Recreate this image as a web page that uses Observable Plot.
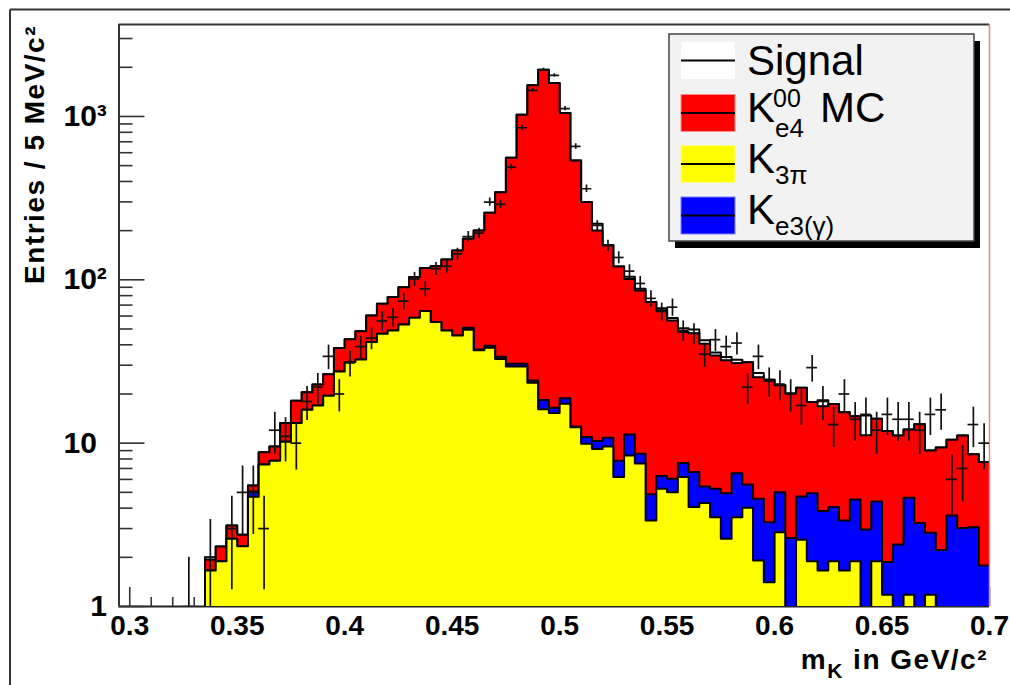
<!DOCTYPE html>
<html><head><meta charset="utf-8">
<script src="https://cdn.jsdelivr.net/npm/d3@7"></script>
<script src="https://cdn.jsdelivr.net/npm/@observablehq/plot@0.6"></script>
<style>
html,body{margin:0;padding:0;background:#fff;}
#chart{position:relative;width:1010px;height:685px;overflow:hidden;background:#fff;}
</style></head><body><div id="chart"></div>
<script>
// ---- data: 5 MeV bins, lower edges in GeV/c^2 ----
const binLow = [0.295,0.300,0.305,0.310,0.315,0.320,0.325,0.330,0.335,0.340,
  0.345,0.350,0.355,0.360,0.365,0.370,0.375,0.380,0.385,0.390,
  0.395,0.400,0.405,0.410,0.415,0.420,0.425,0.430,0.435,0.440,
  0.445,0.450,0.455,0.460,0.465,0.470,0.475,0.480,0.485,0.490,
  0.495,0.500,0.505,0.510,0.515,0.520,0.525,0.530,0.535,0.540,
  0.545,0.550,0.555,0.560,0.565,0.570,0.575,0.580,0.585,0.590,
  0.595,0.600,0.605,0.610,0.615,0.620,0.625,0.630,0.635,0.640,
  0.645,0.650,0.655,0.660,0.665,0.670,0.675,0.680,0.685,0.690,0.695];
const binWidth = 0.005;

// K3pi (yellow), bottom of the stack
const k3pi = [0,0,0,0,0,0,0,0,1.66,1.89,
  2.6,2.34,4.7,7.4,7.8,10.2,13.3,16,17,19.5,
  27.5,31.4,32.5,41.6,46.7,49,53.3,58.6,64.4,55.1,
  49,45.6,49.5,37,38.4,32.7,29.5,29.5,23.4,16.1,
  15.3,17.4,12.5,9.9,9.2,9.55,6.2,8.4,7.5,3.36,
  5.25,5.0,6.2,4.06,4.3,3.52,2.6,3.52,4.02,1.91,
  1.41,2.85,0,2.56,1.89,1.66,1.89,1.66,1.89,0,
  1.89,1.18,0,1.18,0,1.18,0,0,0,0,0];
// Ke3(gamma) (blue)
const ke3 = [0,0,0,0,0,0,0,0,0,0,
  0,0,0.35,0,0,0,0,0,0,0,
  0,0,0,0,0,0,0,0,0,0,
  0,0,1.4,0.5,1.1,1.1,1.1,1.1,0.8,2.3,
  1.2,1.4,0.15,1.0,1.1,1.25,1.6,2.9,1.1,1.5,
  1.05,1.05,1.35,2.6,1.13,1.73,2.34,3.03,1.56,2.65,
  1.87,2.15,2.63,2.16,3.05,2.18,2.17,1.7,2.63,2.96,
  2.51,0.69,2.4,3.45,3.24,1.65,2.22,3.61,3.02,3.06,1.78];
// Ke4 00 MC (red)
const ke4 = [0,0,0,0,0,0,0,0,0.27,0.44,
  0.53,0.41,0.45,1.4,1.75,3.1,4.9,4.5,5.9,6.9,
  10.8,11.8,16,18.9,24.6,29.4,36.9,45.4,53.6,65.9,
  84,105.4,127.6,163.2,218,310,528,994,1526,1914,
  1585,1031,525,289,190,152,113,90,77.5,68.2,
  58.7,50.3,40.4,40.5,35.2,29.2,27.2,24.4,25.7,20.8,
  21.2,17.6,17.5,17.1,12.9,13.0,13.3,12.1,10.1,8.2,
  9.7,10.0,8.75,7.5,9.8,6.2,7.2,6.9,8.1,5.5,5.9];
// Signal (white), top of the stack
const signal = [0,0,0,0,0,0,0,0,0.07,0,
  0,0,0,0,0,0,0,0,0,0,
  0,0,0,0,0,0,0,0,0,0,
  0,0,0,0,0,0,0,0,0,0,
  0,0,0,0,20,0,0,3,2,0,
  2,2,2.5,2.5,2,1.5,1.5,1.5,0,1.5,
  0,0,0,0,0,1.5,0,0,0,3.6,
  0,0,0,0,0,0,0,0,0,0,0];
// measured entries (crosses)
const entries = [0,0,0,0,0,0,1,0,2,0,
  3,5,5,3,12,11,10,18,22,34,
  20,31,39,44,56,59,74,101,88,117,
  121,144,184,193,299,290,490,853,1445,1932,
  1785,1116,656,361,215,162,137,113,95,77,
  64,68,49,47,35,43,39,41,22,34,
  24,23,20,17,29,18,13,20,14,15,
  12,15,14,14,12,15,16,6,7,13,10];

const xMajorTicks = [0.3,0.35,0.4,0.45,0.5,0.55,0.6,0.65,0.7];
const xTickLabels = ["0.3","0.35","0.4","0.45","0.5","0.55","0.6","0.65","0.7"];
const xMinorTicks = [0.31,0.32,0.33,0.34,0.36,0.37,0.38,0.39,0.41,0.42,0.43,0.44,
  0.46,0.47,0.48,0.49,0.51,0.52,0.53,0.54,0.56,0.57,0.58,0.59,0.61,0.62,0.63,0.64,
  0.66,0.67,0.68,0.69];
const yMajorTicks = [1,10,100,1000];
const yTickLabels = ["1","10","10\u00B2","10\u00B3"];
const yMinorTicks = [2,3,4,5,6,7,8,9,20,30,40,50,60,70,80,90,200,300,400,500,600,700,800,900,2000,3000];
const xDomain = [0.295, 0.7];
const yDomain = [1, 3656];

const layerColors = ["#ffffff","#ff0000","#ffff00","#0000ff"];

// ---- build stacked (cumulative) histograms ----
const floorV = 0.2;
const cumY = k3pi.map(v => v);
const cumB = k3pi.map((v,i) => v + ke3[i]);
const cumR = cumB.map((v,i) => v + ke4[i]);
const cumT = cumR.map((v,i) => v + signal[i]);
function steps(vals){
  return binLow.flatMap((lo,i) => {
    const v = Math.max(vals[i], floorV);
    return [{x: lo, y: v}, {x: lo + binWidth, y: v}];
  });
}
const layers = [
  {vals: cumT, fill: layerColors[0]},
  {vals: cumR, fill: layerColors[1]},
  {vals: cumB, fill: layerColors[3]},
  {vals: cumY, fill: layerColors[2]}
];
const histMarks = layers.flatMap(L => {
  const pts = steps(L.vals);
  return [
    Plot.areaY(pts, {x: "x", y1: floorV, y2: "y", fill: L.fill, clip: true}),
    Plot.line(pts, {x: "x", y: "y", stroke: "#000", strokeWidth: 2, clip: true})
  ];
});

const dataRows = binLow.map((lo,i) => ({lo, hi: lo + binWidth, mid: lo + binWidth/2, n: entries[i]}))
  .filter(d => d.n > 0)
  .map(d => ({...d, e1: Math.max(d.n - Math.sqrt(d.n), floorV), e2: d.n + Math.sqrt(d.n)}));

const W = 1010, H = 685, mL = 118.5, mR = 21, mT = 24, mB = 79;
const fw = W - mL - mR, fh = H - mT - mB;
const tickCol = "#333";

const plot = Plot.plot({
  width: W, height: H,
  marginLeft: mL, marginRight: mR, marginTop: mT, marginBottom: mB,
  style: {fontFamily: "'Liberation Sans', Arial, sans-serif", fontSize: "28px", background: "#fff", color: "#000", overflow: "visible"},
  x: {domain: xDomain, label: null},
  y: {type: "log", domain: yDomain, label: null, axis: null},
  marks: [
    Plot.ruleY([yDomain[0]], {stroke: "#222", strokeWidth: 2}),
    Plot.ruleY([yDomain[1]], {stroke: "#333", strokeWidth: 2}),
    Plot.ruleX([xDomain[0]], {stroke: "#333", strokeWidth: 2}),
    Plot.tickX(xMinorTicks, {x: d => d, insetTop: fh - 9, stroke: tickCol, strokeWidth: 1.6}),
    Plot.tickX(xMajorTicks, {x: d => d, insetTop: fh - 19, stroke: tickCol, strokeWidth: 1.6}),
    Plot.tickY(yMinorTicks, {y: d => d, insetRight: fw - 14, stroke: tickCol, strokeWidth: 1.6}),
    Plot.tickY(yMajorTicks, {y: d => d, insetRight: fw - 26, stroke: tickCol, strokeWidth: 1.6}),
    Plot.axisX(xMajorTicks, {tickSize: 0, tickPadding: 9, tickFormat: d => xTickLabels[xMajorTicks.indexOf(d)],
      fontSize: 28, fontWeight: "bold", label: null}),
    Plot.text(yMajorTicks.filter(d => d >= 10), {y: d => d, text: d => yTickLabels[yMajorTicks.indexOf(d)],
      frameAnchor: "left", dx: -55.5, textAnchor: "start", fontSize: 30, fontWeight: "bold"}),
    Plot.text(yMajorTicks.filter(d => d < 10), {y: d => d, text: d => yTickLabels[yMajorTicks.indexOf(d)],
      frameAnchor: "left", dx: -12, textAnchor: "end", fontSize: 30, fontWeight: "bold"}),
    ...histMarks,
    Plot.ruleX([xDomain[1]], {stroke: "#e08a8a", strokeWidth: 1.5}),
    Plot.ruleY(dataRows, {y: "n", x1: "lo", x2: "hi", stroke: "#111", strokeWidth: 1.7, clip: true}),
    Plot.ruleX(dataRows, {x: "mid", y1: "e1", y2: "e2", stroke: "#111", strokeWidth: 1.7, clip: true})
  ]
});
document.getElementById("chart").appendChild(plot);
const svgEl = plot.tagName.toLowerCase() === "svg" ? plot : plot.querySelector("svg");
const svg = d3.select(svgEl);

// canvas border (top & left)
svg.append("line").attr("x1", 10).attr("x2", W).attr("y1", 9.5).attr("y2", 9.5).attr("stroke", "#333").attr("stroke-width", 2);
svg.append("line").attr("x1", 10).attr("x2", 10).attr("y1", 9.5).attr("y2", H).attr("stroke", "#333").attr("stroke-width", 2);

// axis titles
const ff = "'Liberation Sans', Arial, sans-serif";
svg.append("text")
  .attr("transform", "translate(44,25) rotate(-90)")
  .attr("text-anchor", "end").attr("font-family", ff).attr("font-size", 28).attr("font-weight", "bold")
  .attr("letter-spacing", "1.5px")
  .text("Entries / 5 MeV/c\u00B2");
const xt = svg.append("text")
  .attr("x", 988).attr("y", 669).attr("text-anchor", "end")
  .attr("font-family", ff).attr("font-size", 28).attr("font-weight", "bold").attr("letter-spacing", "1.5px");
xt.append("tspan").text("m");
xt.append("tspan").attr("font-size", 21).attr("dy", 9).text("K");
xt.append("tspan").attr("dy", -9).text(" in GeV/c\u00B2");

// legend
const lg = svg.append("g").attr("font-family", ff).attr("font-weight", "normal").attr("text-anchor", "start");
lg.append("rect").attr("x", 675).attr("y", 41).attr("width", 305).attr("height", 207).attr("fill", "#000");
lg.append("rect").attr("x", 669).attr("y", 34).attr("width", 305).attr("height", 207)
  .attr("fill", "#f2f2f2").attr("stroke", "#444").attr("stroke-width", 1.5);
const sw = [
  {y: 42, fill: layerColors[0], stroke: "none"},
  {y: 94.5, fill: layerColors[1], stroke: "#ff9090"},
  {y: 145.5, fill: layerColors[2], stroke: "#ffff90"},
  {y: 197, fill: layerColors[3], stroke: "#8080ff"}
];
sw.forEach(s => {
  lg.append("rect").attr("x", 681).attr("y", s.y).attr("width", 54).attr("height", 37)
    .attr("fill", s.fill).attr("stroke", s.stroke).attr("stroke-width", 1);
  lg.append("line").attr("x1", 681).attr("x2", 735).attr("y1", s.y + 18.5).attr("y2", s.y + 18.5)
    .attr("stroke", "#000").attr("stroke-width", 1.8);
});
function lt(x, y, size, str){
  lg.append("text").attr("x", x).attr("y", y).attr("font-size", size).attr("fill", "#000")
    .attr("text-anchor", "start").text(str);
}
lt(747, 75, 42, "Signal");
lt(747, 121.5, 42, "K"); lt(773, 106.5, 25, "00"); lt(775, 136.5, 26, "e4"); lt(820, 121.5, 42, "MC");
lt(747, 172.5, 42, "K"); lt(775, 183.5, 26, "3\u03C0");
lt(747, 223.5, 42, "K"); lt(775, 235, 26, "e3(\u03B3)");
</script></body></html>
